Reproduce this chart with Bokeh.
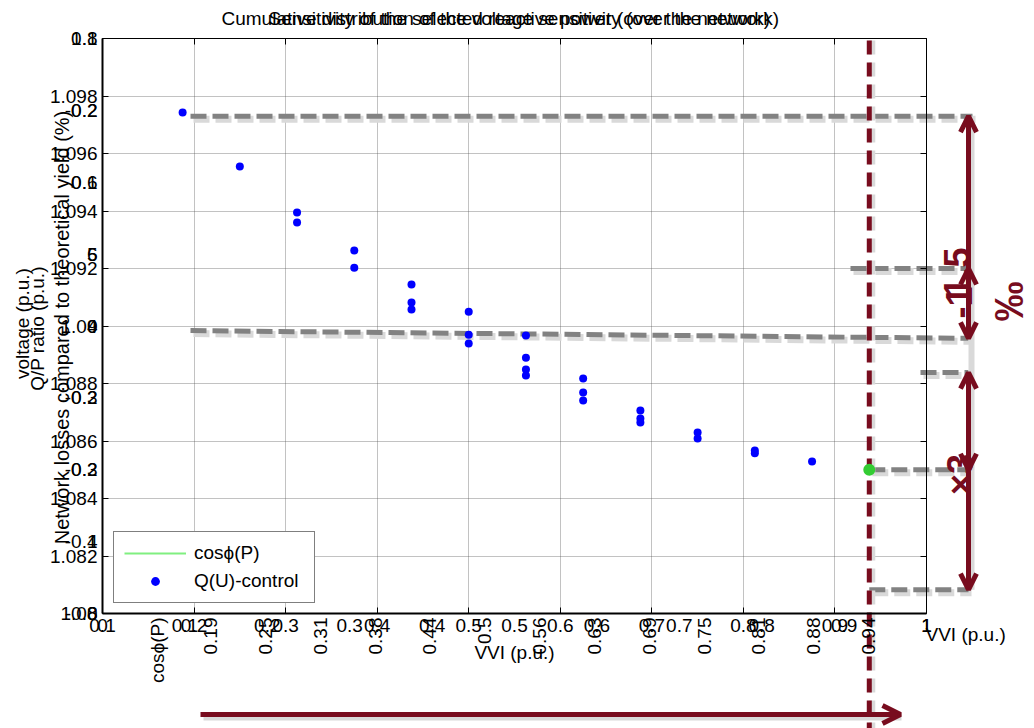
import math
from bokeh.plotting import figure
from bokeh.models import (Range1d, LinearAxis, FixedTicker, Label, Arrow, OpenHead,
                          Legend, LegendItem, Grid)
from bokeh.embed import file_html
from bokeh.resources import INLINE

FONT = "Liberation Sans"
RED = "#780c1e"
GRAY = "#828282"
SHADOW = "#d9d9d9"

# ---------------- data ----------------
vvi_qu = [0.1875, 0.25, 0.3125, 0.3125, 0.375, 0.375,
          0.4375, 0.4375, 0.4375, 0.5, 0.5, 0.5,
          0.5625, 0.5625, 0.5625, 0.5625, 0.625, 0.625, 0.625,
          0.6875, 0.6875, 0.6875, 0.75, 0.75, 0.8125, 0.8125, 0.875]
volt_qu = [1.09743, 1.09555, 1.09395, 1.09360, 1.09263, 1.09203,
           1.09144, 1.09082, 1.09057, 1.09050, 1.08970, 1.08939,
           1.08967, 1.08890, 1.08849, 1.08828, 1.08817, 1.08769, 1.08741,
           1.08706, 1.08678, 1.08664, 1.08630, 1.08609, 1.08567, 1.08557, 1.08529]
vvi_cos = [0.9375]
volt_cos = [1.0850]

x_ticks = [0.1, 0.2, 0.3, 0.4, 0.5, 0.6, 0.7, 0.8, 0.9, 1.0]
x_labels = ["0.1", "0.2", "0.3", "0.4", "0.5", "0.6", "0.7", "0.8", "0.9", "1"]
alt_x_ticks = [0.0, 0.1, 0.2, 0.3, 0.4, 0.5, 0.6, 0.7, 0.8, 0.9, 1.0]
alt_x_labels = ["0", "0.1", "0.2", "0.3", "0.4", "0.5", "0.6", "0.7", "0.8", "0.9", "1"]
rot_ticks = [0.1875, 0.25, 0.3125, 0.375, 0.4375, 0.5, 0.5625, 0.625,
             0.6875, 0.75, 0.8125, 0.875, 0.9375]
rot_labels = ["0.19", "0.25", "0.31", "0.38", "0.44", "0.5", "0.56", "0.63",
              "0.69", "0.75", "0.81", "0.88", "0.94"]
y_ticks = [1.080, 1.082, 1.084, 1.086, 1.088, 1.090, 1.092, 1.094, 1.096, 1.098, 1.100]
y_labels = ["1.08", "1.082", "1.084", "1.086", "1.088", "1.09", "1.092", "1.094",
            "1.096", "1.098", "1.1"]
alt_y_ticks = [0, 1, 2, 3, 4, 5, 6, 7, 8]
alt_y_labels_a = ["-0.8", "-0.4", "-0.2", "-0.2", "0", "6", "0.6", "0.2", "0.8"]
alt_y_labels_b = ["0", "1", "0.3", "0.3", "4", "5", "0.1", "-0.2", ""]

# guide levels (voltage)
guide_top = 1.0973
guide_mid = 1.0920
guide_slant = (1.08984, 1.08957)
guide_low = 1.08838
guide_bottom = 1.08083

# ---------------- geometry: plot box inside a full-canvas frame ----------------
W, H = 1034, 728
FL, FR, FT, FB = 102, 926, 38, 613
X0, X1, Y0, Y1 = 0.1, 1.0, 1.08, 1.10


def X(px, a=X0, b=X1):
    return a + (px - FL) / (FR - FL) * (b - a)


def Y(py, a=Y0, b=Y1):
    return b - (py - FT) / (FB - FT) * (b - a)


p = figure(width=W, height=H,
           x_range=Range1d(X(0), X(W)), y_range=Range1d(Y(H), Y(0)),
           output_backend="svg", toolbar_location=None,
           min_border_left=0, min_border_right=0, min_border_top=0, min_border_bottom=0)
p.outline_line_color = None
p.background_fill_color = "white"
p.border_fill_color = "white"
p.extra_x_ranges = {"alt": Range1d(X(0, 0, 1), X(W, 0, 1)),
                    "rot": Range1d(X(0, 0.0644, 1.0036), X(W, 0.0644, 1.0036))}
p.extra_y_ranges = {"alt": Range1d(Y(H, 0, 8), Y(0, 0, 8))}

# axes drawn at fixed locations around the plot box
xa = p.xaxis[0]
xa.ticker = FixedTicker(ticks=x_ticks)
xa.major_label_overrides = {t: l for t, l in zip(x_ticks, x_labels)}
xa.fixed_location = Y0
xa.bounds = (X0, X1)
ya = p.yaxis[0]
ya.ticker = FixedTicker(ticks=y_ticks)
ya.major_label_overrides = {t: l for t, l in zip(y_ticks, y_labels)}
ya.fixed_location = X0
ya.bounds = (Y0, Y1)
for ax in (xa, ya):
    ax.major_tick_in = 6
    ax.major_tick_out = 0
    ax.minor_tick_line_color = None
    ax.axis_line_width = 2
    ax.major_tick_line_width = 1
    ax.major_label_text_font = FONT
    ax.major_label_text_font_size = "19px"
    ax.major_label_text_color = "black"
    ax.major_label_standoff = 5
xa.axis_label = "VVI (p.u.)"
xa.axis_label_text_font = FONT
xa.axis_label_text_font_size = "19px"
xa.axis_label_text_font_style = "normal"
xa.axis_label_text_color = "black"
xa.axis_label_standoff = 7

top = LinearAxis(ticker=FixedTicker(ticks=x_ticks),
                 major_label_overrides={t: "" for t in x_ticks},
                 major_tick_in=6, major_tick_out=0, minor_tick_line_color=None,
                 axis_line_width=1, major_label_standoff=0,
                 fixed_location=Y1, bounds=(X0, X1))
right = LinearAxis(ticker=FixedTicker(ticks=y_ticks),
                   major_label_overrides={t: "" for t in y_ticks},
                   major_tick_in=6, major_tick_out=0, minor_tick_line_color=None,
                   axis_line_width=1, major_label_standoff=0,
                   fixed_location=X1, bounds=(Y0, Y1))
p.add_layout(top, "above")
p.add_layout(right, "right")

# grid limited to the plot box
grid_style = dict(grid_line_color="#505050", grid_line_alpha=0.7,
                  grid_line_dash="1 1", grid_line_width=1)
if "cross_bounds" in Grid.properties():
    p.xgrid.ticker = FixedTicker(ticks=x_ticks)
    p.ygrid.ticker = FixedTicker(ticks=y_ticks)
    p.xgrid[0].bounds = (X0, X1)
    p.xgrid[0].cross_bounds = (Y0, Y1)
    p.ygrid[0].bounds = (Y0, Y1)
    p.ygrid[0].cross_bounds = (X0, X1)
    for g in (p.xgrid[0], p.ygrid[0]):
        for k, v in grid_style.items():
            setattr(g, k, v)
else:
    p.xgrid.visible = False
    p.ygrid.visible = False
    p.segment(x0=x_ticks, y0=[Y0] * len(x_ticks), x1=x_ticks, y1=[Y1] * len(x_ticks),
              line_color="#505050", line_alpha=0.7, line_dash="1 1", level="underlay")
    p.segment(x0=[X0] * len(y_ticks), y0=y_ticks, x1=[X1] * len(y_ticks), y1=y_ticks,
              line_color="#505050", line_alpha=0.7, line_dash="1 1", level="underlay")


# ---------------- decorations ----------------
def seg(x0, y0, x1, y1, color, width, dash="solid", start=None, end=None, level="underlay"):
    p.add_layout(Arrow(x_start=x0, y_start=y0, x_end=x1, y_end=y1, line_color=color,
                       line_width=width, line_dash=dash, start=start, end=end, level=level))


dy = Y(FT + 3) - Y(FT)
dx = X(FL + 3) - X(FL)
gray_lines = [
    (X(190), guide_top, X(972), guide_top),
    (X(850), guide_mid, X(968), guide_mid),
    (X(190), guide_slant[0], X(968), guide_slant[1]),
    (X(920), guide_low, X(968), guide_low),
    (vvi_cos[0], volt_cos[0], X(968), volt_cos[0]),
    (vvi_cos[0], guide_bottom, X(968), guide_bottom),
]
for (a, b, c, d) in gray_lines:
    seg(a + dx, b + dy, c + dx, d + dy, SHADOW, 7, "16 6")
for (a, b, c, d) in gray_lines:
    seg(a, b, c, d, GRAY, 5, "16 6")

# red dashed vertical line through the cos(P) point
seg(vvi_cos[0] + dx, Y(40), vvi_cos[0] + dx, Y(H), SHADOW, 6, "14 8")
seg(vvi_cos[0], Y(40), vvi_cos[0], Y(H), RED, 5, "14 8")


def head(size=16):
    return OpenHead(size=size, line_color=RED, line_width=5)


# red horizontal arrow at the bottom
seg(X(200) + dx, Y(714) + dy, X(898) + dx, Y(714) + dy, SHADOW, 6, level="annotation")
seg(X(200), Y(714), X(900), Y(714), RED, 5, end=head(18), level="annotation")

xr = X(968)
seg(xr + dx, guide_top, xr + dx, guide_bottom, SHADOW, 6, level="annotation")
seg(xr, guide_top, xr, guide_slant[1], RED, 5, start=head(), end=head(), level="annotation")
seg(xr, guide_slant[1], xr, guide_mid, RED, 5, end=head(), level="annotation")
seg(xr, guide_low, xr, volt_cos[0], RED, 5, start=head(), end=head(), level="annotation")
seg(xr, volt_cos[0], xr, guide_bottom, RED, 5, end=head(), level="annotation")

# ---------------- data glyphs ----------------
qu = p.scatter(vvi_qu, volt_qu, size=8, color="#0000ff", line_color=None)
cosl = p.line(vvi_cos, volt_cos, line_color="#80ef80", line_width=2)
p.scatter(vvi_cos, volt_cos, size=12, color="#33cc33", line_color=None)

legend = Legend(items=[LegendItem(label="cosϕ(P)", renderers=[cosl]),
                       LegendItem(label="Q(U)-control", renderers=[qu])],
                location=(113, H - 603), border_line_color="black", border_line_width=1,
                background_fill_color="white", background_fill_alpha=1,
                label_text_font=FONT, label_text_font_size="19px", label_text_color="black",
                glyph_width=62, glyph_height=22, label_height=22, label_width=110,
                padding=10, spacing=6, margin=0, label_standoff=8)
p.add_layout(legend, "center")


# ---------------- texts ----------------
def txt(text, x, y, size="19px", align="center", baseline="middle", angle=0.0,
        color="black", style="normal", xr_name="default", yr_name="default"):
    p.add_layout(Label(x=x, y=y, text=text, text_font=FONT, text_font_size=size,
                       text_align=align, text_baseline=baseline, angle=angle,
                       text_color=color, text_font_style=style,
                       x_range_name=xr_name, y_range_name=yr_name))


# title (several overlapping titles)
txt("Cumulative distribution of the voltage sensitivity (over the network)",
    X(221), Y(18), size="19px", align="left")
txt("Sensitivity of the selected reactive power (over the network)",
    X(268), Y(18), size="19px", align="left")

# y-axis titles
txt("voltage (p.u.)", X(22), Y(323), angle=math.pi / 2)
txt("Q/P ratio (p.u.)", X(37), Y(328), angle=math.pi / 2)
txt("Network losses compared to theoretical yield (%)", X(61), Y(327), size="20px",
    angle=math.pi / 2)

# overlapping secondary y tick labels
for t, la, lb in zip(alt_y_ticks, alt_y_labels_a, alt_y_labels_b):
    txt(la, X(FL - 5), t, align="right", yr_name="alt")
    if lb:
        txt(lb, X(FL - 5), t, align="right", yr_name="alt")

# overlapping secondary x tick labels
for t, l in zip(alt_x_ticks, alt_x_labels):
    txt(l, t, Y(FB + 5), align="center", baseline="top", xr_name="alt")
for t, l in zip(rot_ticks, rot_labels):
    txt(l, t, Y(FB + 4), align="right", angle=math.pi / 2, xr_name="rot")
txt("cosϕ(P)", X(157), Y(FB + 4), align="right", angle=math.pi / 2)
txt("VVI (p.u.)", X(925), Y(634), align="left")

# dark red annotations
txt("1.5", X(956), Y(272), size="36px", angle=math.pi / 2, color=RED, style="bold")
txt("-1", X(958), Y(302), size="36px", angle=math.pi / 2, color=RED, style="bold")
txt("‰", X(1008), Y(301), size="40px", angle=math.pi / 2, color=RED, style="bold")
txt("×3", X(960), Y(474), size="36px", angle=math.pi / 2, color=RED, style="bold")

open("out.html", "w").write(file_html(p, INLINE))
